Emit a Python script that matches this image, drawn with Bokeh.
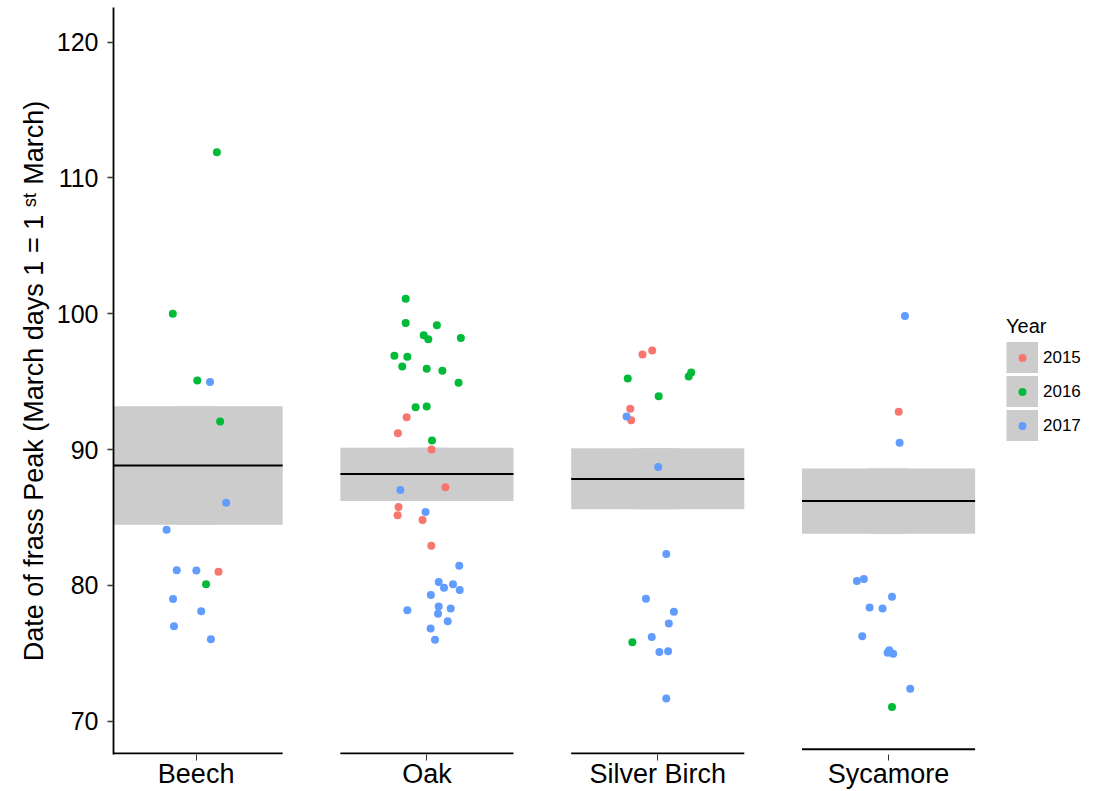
from bokeh.plotting import figure
from bokeh.models import ColumnDataSource, Legend, LegendItem, FixedTicker, Range1d
from bokeh.embed import file_html
from bokeh.resources import INLINE

# ---------------- data ----------------
trees = ["Beech", "Oak", "Silver Birch", "Sycamore"]
years = ["2015", "2016", "2017"]
year_colors = ["#F8766D", "#00BA38", "#619CFF"]
y_ticks = [70, 80, 90, 100, 110, 120]

# crossbar: mean and interval of frass peak per tree
mean_peak = [88.83, 88.20, 87.83, 86.21]
lower_peak = [84.47, 86.21, 85.60, 83.81]
upper_peak = [93.20, 90.13, 90.10, 88.61]

# observations (year, peak day, horizontal jitter in category units)
beech_year = ["2016", "2016", "2016", "2017", "2016", "2017", "2017", "2017", "2017", "2015",
              "2016", "2017", "2017", "2017", "2017"]
beech_peak = [111.9, 100.0, 95.08, 94.98, 92.07, 86.08, 84.1, 81.12, 81.1, 81.0,
              80.08, 78.99, 78.1, 77.0, 76.04]
beech_jitter = [0.090, -0.101, 0.005, 0.060, 0.104, 0.130, -0.128, -0.084, 0.001, 0.097,
                0.043, -0.100, 0.022, -0.096, 0.064]

oak_year = ["2016"] * 15 + ["2015"] * 8 + ["2017"] * 15
oak_peak = [101.1, 99.32, 99.15, 98.42, 98.12, 98.22, 96.9, 96.83, 96.12, 95.95, 95.8, 94.92, 93.11, 93.18, 90.67,
            92.38, 91.2, 90.0, 87.22, 85.78, 85.17, 84.82, 82.92,
            87.02, 85.41, 81.45, 80.26, 79.82, 80.09, 79.67, 79.3, 78.18, 78.45, 77.91, 78.3, 77.37, 76.83, 76.0]
oak_jitter = [-0.092, -0.092, 0.043, -0.014, 0.006, 0.147, -0.141, -0.085, -0.107, -0.001, 0.067, 0.137, -0.049, -0.001, 0.022,
              -0.088, -0.126, 0.020, 0.080, -0.123, -0.127, -0.019, 0.019,
              -0.115, -0.006, 0.140, 0.051, 0.074, 0.113, 0.142, 0.017, -0.085, 0.051, 0.048, 0.103, 0.090, 0.016, 0.035]

birch_year = ["2015"] * 4 + ["2016"] * 5 + ["2017"] * 10
birch_peak = [97.0, 97.29, 93.01, 92.16,
              95.24, 95.38, 95.67, 93.92, 75.81,
              92.43, 88.71, 82.31, 79.01, 78.06, 77.2, 76.2, 75.1, 75.15, 71.68]
birch_jitter = [-0.066, -0.024, -0.119, -0.115,
                -0.130, 0.134, 0.145, 0.004, -0.110,
                -0.135, 0.002, 0.037, -0.051, 0.070, 0.048, -0.026, 0.007, 0.045, 0.037]

sycamore_year = ["2017", "2015", "2017", "2017", "2017", "2017", "2017", "2017", "2017", "2017",
                 "2017", "2017", "2017", "2016"]
sycamore_peak = [99.83, 92.79, 90.5, 80.33, 80.48, 79.16, 78.37, 78.3, 76.25, 75.22,
                 75.05, 74.96, 72.39, 71.04]
sycamore_jitter = [0.071, 0.044, 0.048, -0.137, -0.107, 0.015, -0.082, -0.026, -0.114, 0.003,
                   -0.004, 0.020, 0.094, 0.015]

observations = {
    "Beech": (beech_year, beech_peak, beech_jitter),
    "Oak": (oak_year, oak_peak, oak_jitter),
    "Silver Birch": (birch_year, birch_peak, birch_jitter),
    "Sycamore": (sycamore_year, sycamore_peak, sycamore_jitter),
}

# ---------------- styling ----------------
FONT = "Liberation Sans"
HALF_W = 0.375
BOX_GREY = "#CCCCCC"

pos = [i + 1 for i in range(len(trees))]

# frame spans to the right edge so the legend can sit inside it (no right axis)
p = figure(width=1093, height=791,
           x_range=Range1d(0.642, 4.888), y_range=Range1d(67.55, 122.55),
           output_backend="svg", toolbar_location=None,
           min_border_left=113, min_border_right=0, min_border_top=7, min_border_bottom=0)
p.outline_line_color = None
p.xgrid.visible = False
p.ygrid.visible = False
p.background_fill_color = "white"

# crossbars
cb = ColumnDataSource(dict(
    x=pos,
    left=[x - HALF_W for x in pos],
    right=[x + HALF_W for x in pos],
    lower=lower_peak, upper=upper_peak, mean=mean_peak,
))
# grey key (hidden under the boxes) used for legend key squares
key_r = p.segment(x0="x", x1="x", y0="lower", y1="upper", source=cb,
                  line_color=BOX_GREY, line_width=40, line_cap="butt")
p.quad(left="left", right="right", bottom="lower", top="upper", source=cb,
       fill_color=BOX_GREY, line_color=None)
p.segment(x0="left", x1="right", y0="mean", y1="mean", source=cb,
          line_color="black", line_width=2)

# x axis line segments under each group
axis_nudge = [0.07, 0.07, 0.07, 0.38]
ax_src = ColumnDataSource(dict(
    x0=[max(x - HALF_W, p.x_range.start) for x in pos], x1=[x + HALF_W for x in pos],
    y=[p.y_range.start + n for n in axis_nudge],
))
p.segment(x0="x0", x1="x1", y0="y", y1="y", source=ax_src, line_color="black", line_width=2)

# points per year
renderers = {}
legend_dots = {}
for yr, col in zip(years, year_colors):
    xs, ys = [], []
    for i, t in enumerate(trees):
        yl, pk, jt = observations[t]
        for a, b, c in zip(yl, pk, jt):
            if a == yr:
                xs.append(pos[i] + c)
                ys.append(b)
    src = ColumnDataSource(dict(x=xs, y=ys))
    # tiny copy hidden under the real points; in the legend its grey rim trims the dot to ~8px
    legend_dots[yr] = p.scatter("x", "y", source=src, size=1, fill_color=col,
                                line_color=BOX_GREY, line_width=4.4)
    renderers[yr] = p.scatter("x", "y", source=src, size=8, fill_color=col, line_color=None)

# axes
p.xaxis.ticker = FixedTicker(ticks=pos)
p.xaxis.major_label_overrides = {x: t for x, t in zip(pos, trees)}
p.xaxis.axis_line_color = None
p.xaxis.major_tick_out = 6
p.xaxis.major_tick_in = 0
p.xaxis.minor_tick_line_color = None
p.xaxis.major_tick_line_color = "#333333"
p.xaxis.major_label_standoff = -2
p.xaxis.major_label_text_font = FONT
p.xaxis.major_label_text_font_size = "27px"
p.xaxis.major_label_text_color = "black"

p.yaxis.ticker = FixedTicker(ticks=y_ticks)
p.yaxis.axis_line_color = "black"
p.yaxis.axis_line_width = 1.8
p.yaxis.major_tick_out = 6
p.yaxis.major_tick_in = 0
p.yaxis.minor_tick_line_color = None
p.yaxis.major_tick_line_color = "#333333"
p.yaxis.major_tick_line_width = 1.3
p.yaxis.major_label_standoff = 9
p.yaxis.major_label_text_font = FONT
p.yaxis.major_label_text_font_size = "25px"
p.yaxis.major_label_text_color = "black"
p.yaxis.axis_label = "Date of frass Peak (March days 1 = 1 \u02e2\u1d57 March)"
p.yaxis.axis_label_text_font = FONT
p.yaxis.axis_label_text_font_size = "27px"
p.yaxis.axis_label_text_font_style = "normal"
p.yaxis.axis_label_text_color = "black"
p.yaxis.axis_label_standoff = 5

# legend (placed inside the wide frame, right of the data)
items = [LegendItem(label=yr, renderers=[key_r, legend_dots[yr]]) for yr in years]
legend = Legend(items=items, location=(893, 313), title="Year",
                title_text_font=FONT, title_text_font_size="20px", title_text_font_style="normal",
                title_text_color="black", title_standoff=4,
                label_text_font=FONT, label_text_font_size="17px", label_text_color="black",
                label_standoff=5, glyph_width=32, glyph_height=31, label_height=31,
                spacing=3, padding=0, margin=0,
                border_line_color=None, background_fill_alpha=0)
p.add_layout(legend, "center")

open("out.html", "w").write(file_html(p, INLINE))
